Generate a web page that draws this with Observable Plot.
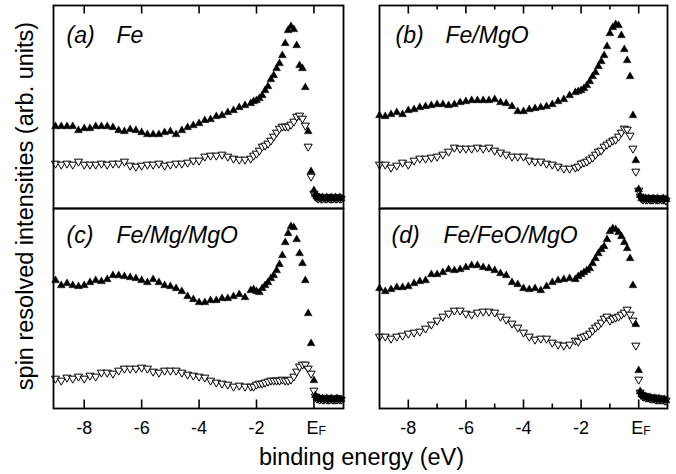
<!DOCTYPE html>
<html>
<head>
<meta charset="utf-8">
<script src="https://cdn.jsdelivr.net/npm/d3@7"></script>
<script src="https://cdn.jsdelivr.net/npm/@observablehq/plot@0.6"></script>
<style>
  body { margin: 0; background: #fff; }
  #fig { position: relative; width: 676px; height: 474px; font-family: "Liberation Sans", Arial, Helvetica, sans-serif; }
  #fig > svg { position: absolute; }
</style>
</head>
<body>
<div id="fig"></div>
<script>
// Binding-energy grid shared by all spectra (eV, relative to E_F)
const energy = [
  -9.0, -8.8, -8.6, -8.4, -8.2, -8.0, -7.8, -7.6, -7.4, -7.2,
  -7.0, -6.8, -6.6, -6.4, -6.2, -6.0, -5.8, -5.6, -5.4, -5.2,
  -5.0, -4.8, -4.6, -4.4, -4.2, -4.0, -3.8, -3.6, -3.4, -3.2,
  -3.0, -2.8, -2.6, -2.4, -2.2,
  -2.1, -2.0, -1.9, -1.8, -1.7, -1.6, -1.5, -1.4, -1.3, -1.2, -1.1,
  -1.0, -0.9, -0.8, -0.7, -0.6, -0.5, -0.4, -0.3, -0.2, -0.1,
  0.0, 0.05, 0.1, 0.15, 0.2, 0.25, 0.3, 0.35, 0.4, 0.45,
  0.5, 0.55, 0.6, 0.65, 0.7, 0.75, 0.8, 0.85, 0.9, 0.95
];

// Spin-resolved intensities (arb. units): majority (up) and minority (down)
const feUp = [
  82, 82, 82, 82, 78, 80, 80, 82, 82, 82, 81, 78, 77, 79, 78, 76, 74, 74, 74, 76,
  77, 74, 78, 81, 83, 85, 88, 89, 92, 93, 96, 98, 101, 103, 105,
  107, 108, 110, 113, 118, 122, 129, 133, 140, 145, 153, 165, 178, 182, 179, 163, 143, 140, 121, 77, 37,
  18, 14, 12, 11, 11, 10, 11, 10, 10, 11, 10, 10, 11, 10, 10, 11, 10, 10, 11, 10
];
const feDown = [
  45, 44, 45, 44, 47, 44, 44, 44, 45, 44, 45, 45, 47, 43, 42, 43, 44, 44, 45, 43,
  44, 45, 45, 46, 48, 48, 52, 53, 53, 54, 52, 50, 49, 49, 50,
  53, 55, 58, 62, 63, 65, 68, 72, 76, 80, 82, 82, 82, 84, 87, 92, 93, 90, 83, 62, 32,
  15, 12, 11, 10, 11, 10, 10, 11, 10, 10, 11, 10, 10, 10, 11, 10, 10, 11, 10, 10
];
const feMgoUp = [
  93, 92, 94, 96, 94, 98, 99, 101, 102, 103, 104, 104, 103, 104, 106, 107, 108, 108, 108, 108,
  109, 106, 105, 102, 97, 97, 99, 100, 101, 102, 104, 107, 109, 113, 116,
  117, 118, 120, 123, 127, 132, 136, 142, 147, 153, 162, 175, 181, 184, 183, 173, 159, 148, 132, 93, 48,
  19, 13, 10, 10, 9, 10, 9, 10, 9, 9, 10, 9, 9, 10, 9, 9, 9, 10, 9, 9
];
const feMgoDown = [
  44, 44, 41, 43, 46, 44, 48, 50, 50, 51, 52, 54, 57, 61, 60, 60, 60, 61, 60, 61,
  58, 56, 54, 52, 52, 52, 48, 47, 47, 45, 44, 42, 40, 40, 41,
  42, 45, 46, 47, 49, 51, 54, 57, 58, 62, 64, 66, 68, 69, 72, 76, 80, 79, 73, 60, 37,
  18, 12, 10, 9, 10, 9, 9, 10, 9, 9, 9, 10, 9, 9, 9, 10, 9, 9, 9, 8
];
const feMgMgoUp = [
  128, 123, 125, 123, 122, 123, 126, 128, 127, 129, 133, 133, 132, 131, 130, 128, 126, 129, 126, 123,
  122, 120, 117, 112, 109, 106, 106, 108, 108, 110, 110, 112, 114, 111, 118,
  119, 117, 116, 120, 123, 126, 130, 133, 138, 144, 153, 166, 175, 182, 181, 169, 155, 145, 128, 95, 65,
  28, 13, 11, 10, 10, 9, 10, 9, 9, 10, 9, 9, 10, 9, 9, 9, 10, 9, 9, 9
];
const feMgMgoDown = [
  30, 28, 31, 30, 32, 30, 33, 32, 36, 36, 35, 38, 40, 40, 40, 41, 40, 37, 36, 38,
  38, 38, 36, 34, 33, 32, 31, 28, 26, 25, 24, 22, 23, 22, 22,
  22, 24, 25, 25, 26, 27, 28, 28, 28, 28, 29, 28, 28, 29, 32, 37, 42, 44, 44, 40, 35,
  18, 12, 10, 10, 9, 10, 9, 9, 10, 9, 9, 9, 10, 9, 9, 9, 9, 10, 9, 9
];
const feFeoMgoUp = [
  120, 117, 119, 121, 121, 122, 125, 127, 128, 134, 134, 136, 139, 138, 139, 141, 143, 143, 141, 140,
  138, 135, 133, 126, 124, 120, 119, 120, 118, 122, 126, 128, 129, 130, 129,
  132, 134, 136, 138, 140, 145, 150, 155, 159, 162, 169, 177, 180, 179, 176, 172, 166, 160, 150, 123, 84,
  38, 17, 14, 13, 12, 12, 11, 11, 11, 10, 10, 10, 10, 9, 10, 9, 9, 9, 9, 8
];
const feFeoMgoDown = [
  72, 72, 70, 72, 73, 75, 76, 77, 80, 84, 88, 92, 95, 98, 98, 95, 94, 96, 97, 97,
  96, 92, 89, 85, 81, 76, 72, 69, 70, 70, 66, 64, 63, 64, 68,
  67, 71, 72, 73, 75, 78, 81, 83, 86, 90, 92, 88, 90, 91, 92, 94, 96, 99, 94, 88, 63,
  29, 16, 13, 12, 12, 11, 11, 11, 10, 10, 10, 10, 9, 9, 9, 9, 9, 9, 8, 8
];

const panelLetters = ["(a)", "(b)", "(c)", "(d)"];
const panelNames = ["Fe", "Fe/MgO", "Fe/Mg/MgO", "Fe/FeO/MgO"];
const majorTicks = [-8, -6, -4, -2, 0];
const minorTicks = [-7, -5, -3, -1];
const tickLabels = ["-8", "-6", "-4", "-2"];
const fermiLabel = ["E", "F"];

const spectra = [
  {up: feUp, down: feDown},
  {up: feMgoUp, down: feMgoDown},
  {up: feMgMgoUp, down: feMgMgoDown},
  {up: feFeoMgoUp, down: feFeoMgoDown}
];

// Frame geometry of the 2x2 grid, in page pixels
const layout = [
  {left: 53,  top: 5,   width: 290, height: 203, x: [-9.07, 1.03], row: 0, col: 0, dxL: 13, dxN: 63, dy: 37},
  {left: 379, top: 5,   width: 288, height: 203, x: [-9.0, 1.0],   row: 0, col: 1, dxL: 16, dxN: 66, dy: 37},
  {left: 53,  top: 208, width: 290, height: 200, x: [-9.07, 1.03], row: 1, col: 0, dxL: 13, dxN: 63, dy: 34},
  {left: 379, top: 208, width: 288, height: 200, x: [-9.0, 1.0],   row: 1, col: 1, dxL: 12, dxN: 64, dy: 34}
];

const FONT = "Liberation Sans, Arial, Helvetica, sans-serif";

// Open, downward-pointing triangle for the minority spectra
const triangleDown = {
  draw(context, size) {
    const y = Math.sqrt(size / (Math.sqrt(3) * 3));
    context.moveTo(0, 2 * y);
    context.lineTo(Math.sqrt(3) * y, -y);
    context.lineTo(-Math.sqrt(3) * y, -y);
    context.closePath();
  }
};

function panel(i) {
  const L = layout[i];
  const up = energy.map((e, k) => ({e, v: spectra[i].up[k]}));
  const down = energy.map((e, k) => ({e, v: spectra[i].down[k]}));
  const m = 3;
  const mb = L.row === 1 ? 40 : 3;
  const edge = L.row === 0 ? "insetBottom" : "insetTop";

  const marks = [
    Plot.dot(down, {x: "e", y: "v", symbol: triangleDown, r: 3, fill: "white", stroke: "black", strokeWidth: 1}),
    Plot.dot(up, {x: "e", y: "v", symbol: "triangle", r: 3, fill: "black", stroke: "black", strokeWidth: 0.3}),
    Plot.tickX(majorTicks, {x: d => d, stroke: "black", strokeWidth: 1.6, [edge]: L.height - 8.5})
  ];
  if (L.col === 1) {
    marks.push(Plot.tickX(minorTicks, {x: d => d, stroke: "black", strokeWidth: 1.6, [edge]: L.height - 4.5}));
  }
  marks.push(Plot.frame({stroke: "black", strokeWidth: 1.8}));
  marks.push(Plot.text([panelLetters[i]], {text: d => d, frameAnchor: "top-left", textAnchor: "start", lineAnchor: "bottom",
    dx: L.dxL, dy: L.dy, fontSize: 23, fontStyle: "italic", fill: "black"}));
  marks.push(Plot.text([panelNames[i]], {text: d => d, frameAnchor: "top-left", textAnchor: "start", lineAnchor: "bottom",
    dx: L.dxN, dy: L.dy, fontSize: 23, fontStyle: "italic", fill: "black"}));

  if (L.row === 1) {
    const numeric = majorTicks.slice(0, 4);
    marks.push(Plot.text(numeric, {x: d => d, text: (d, j) => tickLabels[j], frameAnchor: "bottom", textAnchor: "middle",
      lineAnchor: "bottom", dy: 25, fontSize: 18, fill: "black"}));
    marks.push(Plot.text([0], {x: d => d, text: () => fermiLabel[0], frameAnchor: "bottom", textAnchor: "middle",
      lineAnchor: "bottom", dx: -1.5, dy: 25, fontSize: 18, fill: "black"}));
    marks.push(Plot.text([0], {x: d => d, text: () => fermiLabel[1], frameAnchor: "bottom", textAnchor: "start",
      lineAnchor: "bottom", dx: 4.5, dy: 26.5, fontSize: 12, fill: "black"}));
  }

  const svg = Plot.plot({
    width: L.width + 2 * m,
    height: L.height + m + mb,
    marginLeft: m, marginRight: m, marginTop: m, marginBottom: mb,
    x: {domain: L.x, axis: null},
    y: {domain: [0, L.height], axis: null},
    style: {background: "transparent", fontFamily: FONT, overflow: "visible"},
    marks
  });
  svg.style.left = (L.left - m) + "px";
  svg.style.top = (L.top - m) + "px";
  return svg;
}

const fig = document.getElementById("fig");

// Axis titles shared by the four panels
const titles = d3.select(fig).append("svg")
  .attr("width", 676).attr("height", 474)
  .style("left", "0px").style("top", "0px");
titles.append("text")
  .attr("x", 361.5).attr("y", 465)
  .attr("text-anchor", "middle")
  .attr("font-family", FONT).attr("font-size", 23.5)
  .text("binding energy (eV)");
titles.append("text")
  .attr("transform", "translate(32.5,206) rotate(-90)")
  .attr("text-anchor", "middle")
  .attr("font-family", FONT).attr("font-size", 23.5)
  .text("spin resolved intensities (arb. units)");

for (let i = 0; i < 4; i++) fig.appendChild(panel(i));
</script>
</body>
</html>
